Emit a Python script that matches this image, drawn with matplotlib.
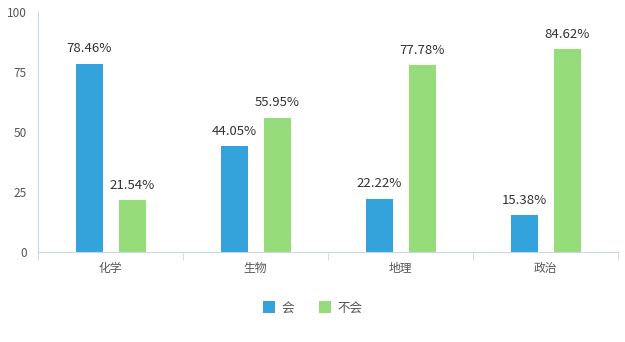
import numpy as np
import matplotlib
matplotlib.use('Agg')
import matplotlib.pyplot as plt

plt.rcParams['font.family'] = ['Noto Sans CJK SC', 'DejaVu Sans']

subjects = ['化学', '生物', '地理', '政治']
hui = [78.46, 44.05, 22.22, 15.38]
buhui = [21.54, 55.95, 77.78, 84.62]
series_names = ['会', '不会']

blue = '#34a3dc'
green = '#97dc7b'
axis_col = '#c9d6ea'
text_col = '#555555'

fig = plt.figure(figsize=(6.25, 3.42), dpi=100)
ax = fig.add_axes([0.061, 0.263, 0.928, 0.702])

x = np.arange(len(subjects))
w = 0.186
off = 0.148
b1 = ax.bar(x - off, hui, w, color=blue, label=series_names[0])
b2 = ax.bar(x + off, buhui, w, color=green, label=series_names[1])

# percent labels above bars
for bars, vals in ((b1, hui), (b2, buhui)):
    for r, v in zip(bars, vals):
        ax.annotate('%.2f%%' % v, (r.get_x() + r.get_width() / 2, v),
                    xytext=(0, 6), textcoords='offset points',
                    ha='center', va='bottom', fontsize=9.5, color='#333333')

ax.set_xlim(-0.5, len(subjects) - 0.5)
ax.set_ylim(0, 100)
ax.set_yticks([0, 25, 50, 75, 100])
ax.set_xticks(x)
ax.set_xticklabels(subjects)
ax.set_xticks(np.arange(len(subjects) + 1) - 0.5, minor=True)
ax.tick_params(axis='x', which='major', length=0, pad=7, labelsize=8.5, labelcolor=text_col)
ax.tick_params(axis='x', which='minor', length=6, color=axis_col, direction='out')
ax.tick_params(axis='y', length=0, pad=8, labelsize=8.5, labelcolor=text_col)

for s in ['top', 'right']:
    ax.spines[s].set_visible(False)
ax.spines['left'].set_color(axis_col)
ax.spines['bottom'].set_color(axis_col)

leg = fig.legend(loc='center', bbox_to_anchor=(0.5, 0.1), ncol=2, frameon=False,
                 fontsize=9, handlelength=1.0, handleheight=1.0, columnspacing=2.0,
                 handletextpad=0.5)
for t in leg.get_texts():
    t.set_color(text_col)

fig.savefig('out.png', dpi=100)
